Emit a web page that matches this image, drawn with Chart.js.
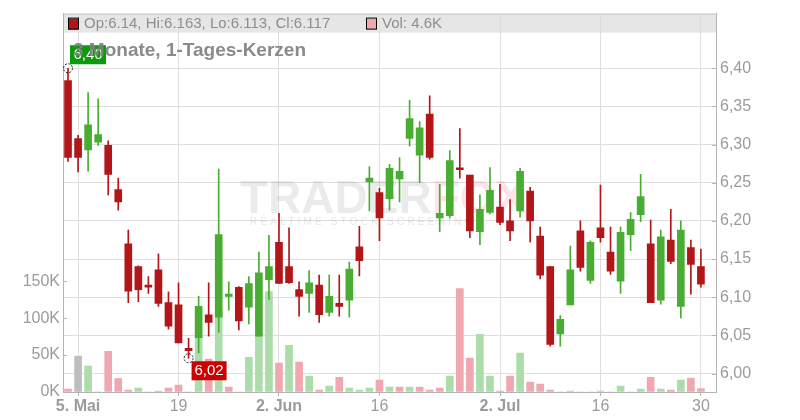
<!DOCTYPE html>
<html>
<head>
<meta charset="utf-8">
<script src="https://cdn.jsdelivr.net/npm/chart.js@4.4.1/dist/chart.umd.min.js"></script>
<style>
  html, body { margin: 0; padding: 0; background: #fff; }
  #wrap { width: 800px; height: 420px; }
</style>
</head>
<body>
<div id="wrap"><canvas id="chart" width="800" height="420"></canvas></div>
<script>
const FONT = "'Liberation Sans', Arial, sans-serif";

// daily candles, 2 May - 30 Jul (trading days)
const opens = [6.384, 6.308, 6.293, 6.303, 6.299, 6.241, 6.170, 6.140, 6.116, 6.136,
  6.093, 6.090, 6.033, 6.047, 6.077, 6.074, 6.101, 6.113, 6.087, 6.049,
  6.123, 6.172, 6.140, 6.110, 6.105, 6.116, 6.080, 6.092, 6.096, 6.166,
  6.251, 6.237, 6.229, 6.255, 6.308, 6.286, 6.340, 6.204, 6.207, 6.268,
  6.260, 6.186, 6.211, 6.218, 6.200, 6.213, 6.239, 6.180, 6.140, 6.052,
  6.090, 6.187, 6.122, 6.191, 6.159, 6.121, 6.182, 6.208, 6.170, 6.096,
  6.175, 6.088, 6.165, 6.140];
const highs = [6.400, 6.312, 6.368, 6.360, 6.305, 6.256, 6.188, 6.141, 6.127, 6.157,
  6.107, 6.119, 6.046, 6.101, 6.119, 6.268, 6.120, 6.114, 6.127, 6.159,
  6.181, 6.210, 6.191, 6.120, 6.135, 6.129, 6.129, 6.129, 6.146, 6.193,
  6.271, 6.243, 6.274, 6.283, 6.358, 6.330, 6.364, 6.248, 6.292, 6.321,
  6.260, 6.234, 6.270, 6.248, 6.228, 6.269, 6.244, 6.192, 6.140, 6.076,
  6.167, 6.200, 6.174, 6.247, 6.192, 6.192, 6.211, 6.261, 6.201, 6.188,
  6.215, 6.200, 6.175, 6.163];
const lows = [6.278, 6.264, 6.265, 6.299, 6.234, 6.214, 6.093, 6.094, 6.105, 6.088,
  6.058, 6.040, 6.020, 6.027, 6.049, 6.054, 6.083, 6.057, 6.065, 6.049,
  6.097, 6.118, 6.118, 6.075, 6.080, 6.067, 6.075, 6.075, 6.074, 6.128,
  6.213, 6.174, 6.214, 6.225, 6.298, 6.250, 6.281, 6.186, 6.204, 6.256,
  6.178, 6.169, 6.209, 6.195, 6.174, 6.205, 6.172, 6.124, 6.036, 6.036,
  6.090, 6.134, 6.118, 6.172, 6.130, 6.105, 6.161, 6.199, 6.093, 6.091,
  6.144, 6.073, 6.104, 6.113];
const closes = [6.283, 6.283, 6.326, 6.313, 6.261, 6.225, 6.108, 6.110, 6.113, 6.092,
  6.062, 6.040, 6.030, 6.088, 6.067, 6.182, 6.104, 6.069, 6.118, 6.132,
  6.140, 6.118, 6.119, 6.101, 6.119, 6.077, 6.101, 6.088, 6.137, 6.148,
  6.256, 6.204, 6.269, 6.265, 6.334, 6.322, 6.283, 6.210, 6.279, 6.267,
  6.187, 6.215, 6.240, 6.198, 6.187, 6.265, 6.200, 6.129, 6.038, 6.071,
  6.136, 6.139, 6.172, 6.178, 6.134, 6.185, 6.202, 6.232, 6.093, 6.179,
  6.147, 6.188, 6.143, 6.117];
const volumes = [4000, 48600, 35000, 0, 55000, 18000, 2700, 5400, 0, 1300,
  5400, 9500, 0, 75000, 44600, 110000, 6700, 0, 47000, 80000,
  136000, 39000, 63000, 40500, 21600, 2700, 8100, 20000, 5400, 2700,
  5400, 16000, 6700, 6700, 6700, 6700, 2700, 5400, 21600, 140000,
  46000, 78000, 21600, 1350, 21600, 52600, 13500, 10800, 2700, 0,
  1350, 0, 0, 1350, 0, 8100, 0, 4000, 20000, 4000,
  2700, 16000, 19000, 4600];
const prevClose = 6.30; // close before the first candle

const tickPos = [1, 11, 21, 31, 43, 53, 63];
const tickLabels = ['5. Mai', '19', '2. Jun', '16', '2. Jul', '16', '30'];
const priceTicks = [6.00, 6.05, 6.10, 6.15, 6.20, 6.25, 6.30, 6.35, 6.40];
const volTicks = [0, 50000, 100000, 150000];

const RED = '#b31618';
const GREEN = '#4aad33';
const VOL_RED = '#efa7b0';
const VOL_GREEN = '#addcab';
const VOL_FLAT = '#bebebe';
const GRID = '#dedede';
const AXIS = '#b4b4b4';
const LABEL = '#9b9b9b';

const idx = opens.map((_, i) => i);
const candleColors = idx.map((i) => (closes[i] >= opens[i] ? GREEN : RED));
const volColors = idx.map((i) => {
  const prev = i === 0 ? prevClose : closes[i - 1];
  if (closes[i] > prev) return VOL_GREEN;
  if (closes[i] < prev) return VOL_RED;
  return VOL_FLAT;
});

function fmtPrice(v) {
  return v.toFixed(2).replace('.', ',');
}

const overlay = {
  id: 'overlay',
  beforeDraw(chart) {
    const { ctx, chartArea: a } = chart;
    ctx.save();
    ctx.fillStyle = '#fff';
    ctx.fillRect(0, 0, chart.width, chart.height);
    ctx.fillStyle = '#e6e6e6';
    ctx.fillRect(a.left, a.top, a.right - a.left, 19);
    ctx.strokeStyle = '#c4c4c4';
    ctx.lineWidth = 1;
    ctx.beginPath();
    ctx.moveTo(a.left, a.top + 0.5);
    ctx.lineTo(a.right + 1, a.top + 0.5);
    ctx.stroke();
    ctx.restore();
  },
  beforeDatasetsDraw(chart) {
    const { ctx, chartArea: a } = chart;
    const x0 = a.left + 177;
    const base = a.top + 199;
    ctx.save();
    ctx.textBaseline = 'alphabetic';
    ctx.textAlign = 'left';
    ctx.font = `bold 46px ${FONT}`;
    ctx.fillStyle = 'rgba(0,0,0,0.08)';
    ctx.fillText('TRADER', x0, base);
    const w = ctx.measureText('TRADER').width;
    ctx.fillStyle = 'rgba(240,90,110,0.16)';
    ctx.fillText('FOX', x0 + w, base);
    ctx.font = `10px ${FONT}`;
    ctx.letterSpacing = '3.2px';
    ctx.fillStyle = 'rgba(0,0,0,0.10)';
    ctx.fillText('REALTIME STOCK SCREENING', x0 + 10, base + 12);
    ctx.restore();
  },
  afterDatasetsDraw(chart) {
    const { ctx, chartArea: a, scales } = chart;
    const x = scales.x;
    const y = scales.y;
    const vol = scales.vol;
    ctx.save();

    // inner tick marks
    ctx.strokeStyle = AXIS;
    ctx.lineWidth = 1;
    ctx.beginPath();
    vol.ticks.forEach((t) => {
      const py = Math.round(vol.getPixelForValue(t.value)) + 0.5;
      ctx.moveTo(a.left, py);
      ctx.lineTo(a.left + 4, py);
    });
    y.ticks.forEach((t) => {
      const py = Math.round(y.getPixelForValue(t.value)) + 0.5;
      ctx.moveTo(a.right - 4, py);
      ctx.lineTo(a.right, py);
    });
    ctx.stroke();

    // legend band
    const last = opens.length - 1;
    const ly = a.top + 10;
    ctx.lineWidth = 1;
    ctx.strokeStyle = '#000';
    ctx.fillStyle = RED;
    ctx.fillRect(a.left + 5, ly - 5, 10, 11);
    ctx.strokeRect(a.left + 5.5, ly - 5.5, 10, 11);
    ctx.fillStyle = VOL_RED;
    ctx.fillRect(a.left + 303, ly - 5, 10, 11);
    ctx.strokeRect(a.left + 303.5, ly - 5.5, 10, 11);
    ctx.font = `15px ${FONT}`;
    ctx.fillStyle = '#8e8e8e';
    ctx.textBaseline = 'middle';
    ctx.textAlign = 'left';
    ctx.fillText(`Op:${opens[last]}, Hi:${highs[last]}, Lo:${lows[last]}, Cl:${closes[last]}`, a.left + 21, ly);
    ctx.fillText(`Vol: ${(volumes[last] / 1000).toFixed(1)}K`, a.left + 319, ly);

    // high / low markers
    const hiIdx = highs.indexOf(Math.max(...highs));
    const loIdx = lows.indexOf(Math.min(...lows));
    const hx = x.getPixelForValue(hiIdx);
    const hy = y.getPixelForValue(highs[hiIdx]);
    const lx = x.getPixelForValue(loIdx);
    const lyy = y.getPixelForValue(lows[loIdx]);
    ctx.strokeStyle = '#222';
    ctx.setLineDash([2, 1.5]);
    ctx.beginPath();
    ctx.arc(hx, hy, 4.5, 0, Math.PI * 2);
    ctx.stroke();
    ctx.beginPath();
    ctx.arc(lx, lyy, 4.5, 0, Math.PI * 2);
    ctx.stroke();
    ctx.setLineDash([]);

    ctx.font = `15px ${FONT}`;
    ctx.fillStyle = '#0a9a0a';
    ctx.fillRect(hx + 2, hy - 23, 36, 19);
    ctx.fillStyle = '#fff';
    ctx.textAlign = 'center';
    ctx.fillText(fmtPrice(highs[hiIdx]), hx + 20, hy - 13);

    ctx.fillStyle = '#cc0000';
    ctx.fillRect(lx + 3, lyy + 3, 35, 19);
    ctx.fillStyle = '#fff';
    ctx.fillText(fmtPrice(lows[loIdx]), lx + 20.5, lyy + 13);

    // title
    ctx.textAlign = 'left';
    ctx.font = `bold 19px ${FONT}`;
    ctx.fillStyle = 'rgba(128,128,128,0.92)';
    ctx.fillText('3 Monate, 1-Tages-Kerzen', a.left + 10, a.top + 37);
    ctx.restore();
  }
};

new Chart(document.getElementById('chart'), {
  type: 'bar',
  data: {
    datasets: [
      {
        label: 'Kerzen',
        data: idx.map((i) => ({ x: i, y: [opens[i], closes[i]] })),
        backgroundColor: candleColors,
        barThickness: 7,
        minBarLength: 2,
        grouped: false,
        order: 1,
        yAxisID: 'y'
      },
      {
        label: 'Dochte',
        data: idx.map((i) => ({ x: i, y: [lows[i], highs[i]] })),
        backgroundColor: candleColors,
        barThickness: 1,
        grouped: false,
        order: 2,
        yAxisID: 'y'
      },
      {
        label: 'Volumen',
        data: idx.map((i) => ({ x: i, y: volumes[i] })),
        backgroundColor: volColors,
        barThickness: 7,
        grouped: false,
        order: 3,
        yAxisID: 'vol'
      }
    ]
  },
  options: {
    responsive: false,
    animation: false,
    devicePixelRatio: 1,
    layout: { padding: { top: 11, left: 0, right: 0, bottom: 0 } },
    plugins: {
      legend: { display: false },
      tooltip: { enabled: false }
    },
    scales: {
      x: {
        type: 'linear',
        offset: false,
        min: -0.5,
        max: 64.5,
        afterBuildTicks: (s) => { s.ticks = tickPos.map((v) => ({ value: v })); },
        afterFit: (s) => { s.height = 28; },
        grid: { color: GRID, tickLength: 4, tickColor: AXIS, offset: false },
        border: { color: AXIS },
        ticks: {
          autoSkip: false,
          maxRotation: 0,
          padding: 1,
          color: LABEL,
          font: (c) => ({
            family: FONT,
            size: 16,
            weight: (tickLabels[c.index] || '').includes('.') ? 'bold' : 'normal'
          }),
          callback: (v) => tickLabels[tickPos.indexOf(v)]
        }
      },
      y: {
        position: 'right',
        min: 5.9758,
        max: 6.4716,
        afterBuildTicks: (s) => { s.ticks = priceTicks.map((v) => ({ value: v })); },
        afterFit: (s) => { s.width = 84; },
        grid: { color: GRID, drawTicks: false },
        border: { color: AXIS },
        ticks: {
          padding: 4,
          color: LABEL,
          font: { family: FONT, size: 16 },
          callback: (v) => fmtPrice(v)
        }
      },
      vol: {
        position: 'left',
        min: 0,
        max: 512000,
        afterBuildTicks: (s) => { s.ticks = volTicks.map((v) => ({ value: v })); },
        afterFit: (s) => { s.width = 63; },
        grid: { drawOnChartArea: false, drawTicks: false },
        border: { color: AXIS },
        ticks: {
          padding: 3,
          color: LABEL,
          font: { family: FONT, size: 16 },
          callback: (v) => `${v / 1000}K`
        }
      }
    }
  },
  plugins: [overlay]
});
</script>
</body>
</html>
